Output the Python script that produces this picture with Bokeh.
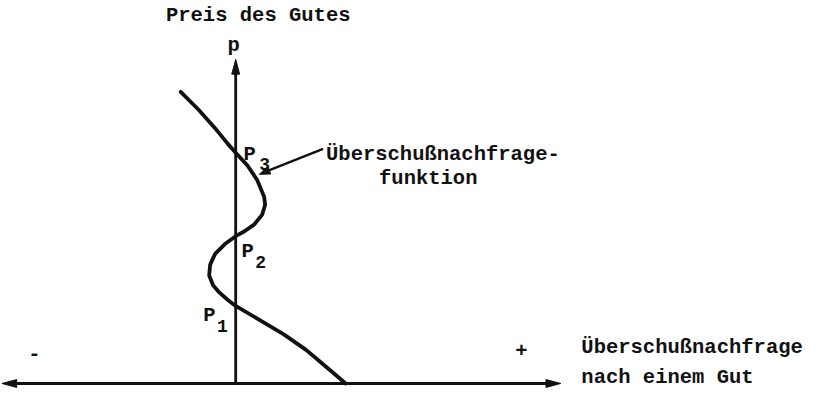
import math
from bokeh.plotting import figure
from bokeh.models import Range1d
from bokeh.embed import file_html
from bokeh.resources import INLINE
from bokeh.core.properties import value

# ---------------- data ----------------
# excess demand z (horizontal) as a function of the price p (vertical)
excess_demand = [-56, -38, -21, -8, 0, 12, 22, 29, 30, 27, 19, 9, 0, -11, -21,
                 -26, -27, -23, -17, -8, 0, 22, 49, 72, 92, 112]
price = [297, 279, 260, 244, 235, 222, 207, 190, 182, 172, 162, 155, 150, 142,
         132, 121, 110, 100, 93, 85, 79, 66, 50, 34, 17, 0]

# equilibria (z = 0)
eq_names = ["P", "P", "P"]
eq_subscripts = ["1", "2", "3"]
eq_price = [79, 150, 235]

# texts
y_title = "Preis des Gutes"
y_symbol = "p"
x_title = ["Überschußnachfrage", "nach einem Gut"]
curve_note = ["Überschußnachfrage-", "funktion"]
sign_labels = ["-", "+"]

# ---------------- layout ----------------
W, H = 808, 388
S = 0.982                     # px per data unit (both directions)
X_LEFT, Y_TOP = -239.5, 390.0
x_range = Range1d(X_LEFT, X_LEFT + W / S)
y_range = Range1d(Y_TOP - H / S, Y_TOP)

FONT = value("Liberation Mono")
INK = "#111111"

p = figure(width=W, height=H, x_range=x_range, y_range=y_range,
           output_backend="svg", toolbar_location=None, min_border=0,
           background_fill_color="white", border_fill_color="white")
p.axis.visible = False
p.grid.visible = False
p.outline_line_color = None


def head(tx, ty, dx, dy, length, half):
    n = math.hypot(dx, dy)
    ux, uy = dx / n, dy / n
    bx, by = tx - ux * length, ty - uy * length
    return ([tx, bx - uy * half, bx + uy * half],
            [ty, by + ux * half, by - ux * half])


# axes
AX_L, AX_R, AX_T = -238, 331, 330
HL, HW = 15, 4
p.line([AX_L + HL * 0.6, AX_R - HL * 0.6], [0, 0], line_width=3, line_color=INK)
p.line([0, 0], [0, AX_T - HL * 0.6], line_width=2.8, line_color=INK)
heads_x, heads_y = [], []
for tip, d in (((AX_R, 0), (1, 0)), ((AX_L, 0), (-1, 0)), ((0, AX_T), (0, 1))):
    hx, hy = head(tip[0], tip[1], d[0], d[1], HL, HW)
    heads_x.append(hx)
    heads_y.append(hy)

# annotation arrow
NOTE_TAIL = (89, 239)
NOTE_TIP = (24, 213)
p.line([NOTE_TAIL[0], NOTE_TIP[0] + 6], [NOTE_TAIL[1], NOTE_TIP[1] + 2.4],
       line_width=2.4, line_color=INK)
hx, hy = head(NOTE_TIP[0], NOTE_TIP[1], NOTE_TIP[0] - NOTE_TAIL[0],
              NOTE_TIP[1] - NOTE_TAIL[1], 11, 4)
heads_x.append(hx)
heads_y.append(hy)
p.patches(heads_x, heads_y, fill_color=INK, line_color=INK, line_width=1)

# excess demand curve
p.line(excess_demand, price, line_width=3.8, line_color=INK,
       line_join="round", line_cap="round")

# texts
BIG = "20.5px"
SUB = "18px"
common = dict(text_font=FONT, text_font_style="bold", text_color=INK)

p.text(x=[-71], y=[375], text=[y_title], text_font_size=BIG,
       text_baseline="alphabetic", text_align="left", **common)
p.text(x=[-2], y=[344], text=[y_symbol], text_font_size=BIG,
       text_baseline="alphabetic", text_align="center", **common)

name_x = [-33, 6, 8]
name_dy = [-10, -16, -2]
sub_x = [-19, 20, 24]
sub_dy = [-20, -26, -12]
p.text(x=name_x, y=[e + d for e, d in zip(eq_price, name_dy)], text=eq_names,
       text_font_size=BIG, text_baseline="alphabetic", text_align="left", **common)
p.text(x=sub_x, y=[e + d for e, d in zip(eq_price, sub_dy)], text=eq_subscripts,
       text_font_size=SUB, text_baseline="alphabetic", text_align="left", **common)

p.text(x=[92, 146], y=[233, 209], text=curve_note, text_font_size=BIG,
       text_baseline="alphabetic", text_align="left", **common)
p.text(x=[352, 352], y=[37, 6], text=x_title, text_font_size=BIG,
       text_baseline="alphabetic", text_align="left", **common)
p.text(x=[-205, 291], y=[31, 34], text=sign_labels, text_font_size=BIG,
       text_baseline="middle", text_align="center", **common)

open("out.html", "w").write(file_html(p, INLINE))
